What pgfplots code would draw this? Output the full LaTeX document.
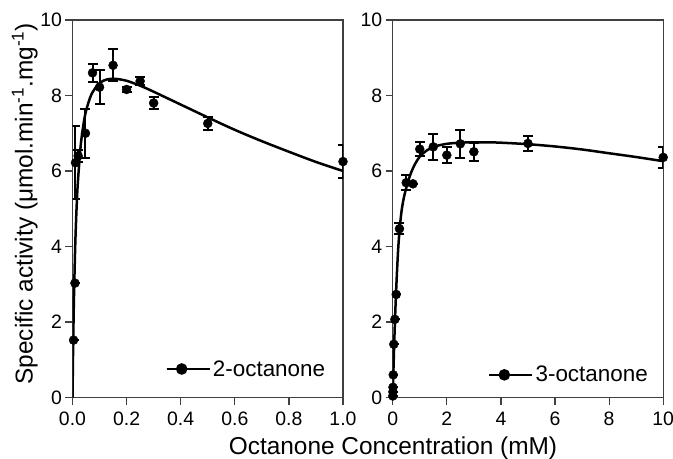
\documentclass[border=0pt]{standalone}
\usepackage{fontspec}
\setmainfont{Liberation Sans}
\usepackage{pgfplots}
\pgfplotsset{compat=1.18}

\definecolor{framec}{HTML}{404040}

\pgfplotsset{
  panel/.style={
    scale only axis, width=270.5bp, height=377.5bp,
    ymin=0, ymax=10, ytick={0,2,...,10},
    axis line style={framec, line width=1.2bp},
    tick style={framec, line width=1.2bp},
    tick align=outside, major tick length=7bp,
    xtick pos=bottom, ytick pos=left,
    tick label style={font=\fontsize{19.5}{22}\selectfont},
    xticklabel style={yshift=-4bp},
    /pgf/number format/assume math mode=true,
    legend style={draw=none, fill=none, font=\fontsize{22.5}{24}\selectfont,
                  inner sep=0pt},
    legend image code/.code={
      \draw[mark repeat=2, mark phase=2, #1]
        plot coordinates {(0bp,0bp) (15bp,0bp) (30bp,0bp)};
      \path (0bp,0bp) -- (43bp,0bp);},
  },
  fitline/.style={black, line width=2.5bp, smooth, no marks},
  pts/.style={only marks, mark=*, mark size=4.5bp, black,
    error bars/.cd, y dir=both, y explicit, error mark=|,
    error bar style={black, line width=2bp},
    error mark options={black, line width=2bp, mark size=5bp},
    /pgfplots/.cd},
}

\begin{document}
\begin{tikzpicture}
\useasboundingbox (0,0) rectangle (673bp,459bp);

% 2-octanone
\begin{axis}[panel, at={(72.5bp,61.5bp)}, anchor=south west,
  xmin=0, xmax=1, xtick={0,0.2,...,1.0},
  xticklabel style={/pgf/number format/.cd, fixed, fixed zerofill, precision=1},
  ylabel={Specific activity (μmol.min\textsuperscript{-1}.mg\textsuperscript{-1})},
  ylabel style={font=\fontsize{24.5}{26}\selectfont, at={(axis description cs:-0.176,0.513)}, anchor=center},
  legend style={at={(0.942,0.0755)}, anchor=east},
]
\addplot[fitline, forget plot] coordinates {
  (0,0) (0.001,0.6) (0.002,1.18) (0.005,2.50) (0.01,4.01) (0.015,5.01)
  (0.02,5.72) (0.03,6.65) (0.04,7.21) (0.05,7.59) (0.07,8.03) (0.1,8.33)
  (0.13,8.43) (0.16,8.44) (0.2,8.39) (0.25,8.26) (0.3,8.10) (0.4,7.76)
  (0.5,7.42) (0.6,7.09) (0.7,6.79) (0.8,6.51) (0.9,6.24) (1.0,6.00)
};
\addplot[forget plot, pts] table[x=x, y=y, y error=e] {
x      y     e
0.004  1.52  0
0.009  3.03  0
0.011  6.22  0.96
0.021  6.40  0.15
0.048  7.00  0.65
0.074  8.60  0.24
0.100  8.22  0.45
0.150  8.80  0.42
0.200  8.16  0.06
0.250  8.38  0.11
0.300  7.80  0.15
0.500  7.26  0.17
1.000  6.25  0.43
};
\addlegendimage{black, line width=2.5bp, mark=*, mark size=4.5bp}
\addlegendentry{2-octanone}
\end{axis}

% 3-octanone
\begin{axis}[panel, at={(392.7bp,61.5bp)}, anchor=south west,
  xmin=0, xmax=10, xtick={0,2,...,10},
  legend style={at={(0.951,0.06)}, anchor=east},
]
\addplot[fitline, forget plot] coordinates {
  (0,0) (0.05,1.3) (0.1,2.35) (0.15,3.2) (0.2,3.9) (0.25,4.4) (0.32,4.9)
  (0.4,5.25) (0.5,5.55) (0.64,5.88) (0.8,6.15) (1.0,6.38) (1.25,6.54)
  (1.56,6.65) (2,6.72) (2.5,6.75) (3,6.76) (3.5,6.76) (4,6.75) (5,6.71)
  (6,6.65) (7,6.57) (8,6.47) (9,6.37) (10,6.26)
};
\addplot[forget plot, pts] table[x=x, y=y, y error=e] {
x      y     e
0.005  0.04  0
0.008  0.15  0
0.010  0.27  0
0.020  0.60  0
0.040  1.41  0
0.080  2.07  0
0.130  2.73  0
0.250  4.47  0.14
0.500  5.69  0.20
0.750  5.66  0
1.000  6.58  0.18
1.500  6.64  0.34
2.000  6.42  0.22
2.500  6.72  0.37
3.000  6.51  0.24
5.000  6.73  0.20
10.00  6.36  0.27
};
\addlegendimage{black, line width=2.5bp, mark=*, mark size=4.5bp}
\addlegendentry{3-octanone}
\end{axis}

\node[font=\fontsize{24.5}{26}\selectfont, anchor=base] at (393bp,4.5bp)
  {Octanone Concentration (mM)};
\end{tikzpicture}
\end{document}
